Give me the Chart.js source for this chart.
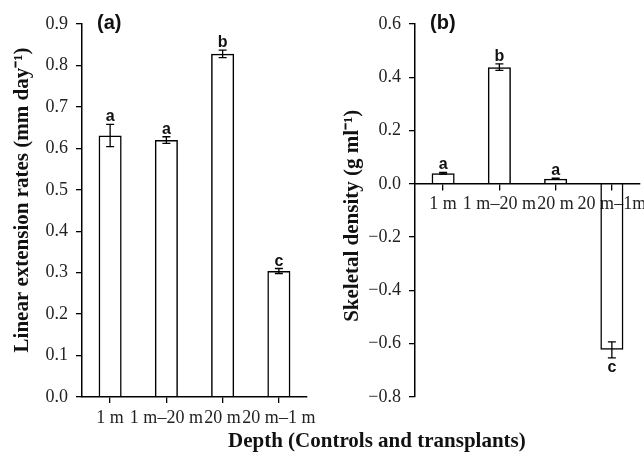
<!DOCTYPE html>
<html>
<head>
<meta charset="utf-8">
<script src="https://cdn.jsdelivr.net/npm/chart.js@4"></script>
<style>
  body { margin: 0; background: #fff; }
  #wrap { position: relative; width: 644px; height: 453px; overflow: hidden; }
  canvas { position: absolute; top: 0; }
  #chartA { left: 0; }
  #chartB { left: 322px; }
  #xTitle {
    position: absolute; left: 228px; top: 428px; line-height: 24px;
    font: bold 21px "Liberation Serif", "Times New Roman", serif; color: #111; white-space: nowrap;
  }
</style>
</head>
<body>
<div id="wrap">
  <canvas id="chartA" width="322" height="453"></canvas>
  <canvas id="chartB" width="322" height="453"></canvas>
  <div id="xTitle">Depth (Controls and transplants)</div>
</div>
<script>
const depthLabelsA = ['1 m', '1 m–20 m', '20 m', '20 m–1 m'];
const depthLabelsB = ['1 m', '1 m–20 m', '20 m', '20 m–1m'];

// (a) linear extension, mean and error
const extensionRates = [0.631, 0.620, 0.828, 0.304];
const extensionErrors = [0.027, 0.008, 0.009, 0.006];
const extensionLetters = ['a', 'a', 'b', 'c'];

// (b) skeletal density change
const densityValues = [0.040, 0.438, 0.019, -0.623];
const densityErrors = [0.003, 0.012, 0.002, 0.030];
const densityLetters = ['a', 'b', 'a', 'c'];

const serif = '"Liberation Serif", "Times New Roman", serif';
const sans = '"Liberation Sans", Arial, sans-serif';

function tickText(v) {
    if (Math.abs(v) < 1e-9) return '0.0';
    return (v < 0 ? '\u2212' : '') + Math.abs(v).toFixed(1);
}

// error bars, significance letters and panel tag
const errorBars = {
    id: 'errorBars',
    afterDatasetsDraw(chart, args, opts) {
        const ctx = chart.ctx, y = chart.scales.y;
        const vals = chart.data.datasets[0].data;
        const bars = chart.getDatasetMeta(0).data;
        ctx.save();
        ctx.strokeStyle = '#000';
        ctx.lineWidth = 1.3;
        ctx.fillStyle = '#111';
        ctx.font = 'bold 16px ' + sans;
        ctx.textAlign = 'center';
        ctx.textBaseline = 'alphabetic';
        bars.forEach((bar, i) => {
            const hi = y.getPixelForValue(vals[i] + opts.errors[i]);
            const lo = y.getPixelForValue(vals[i] - opts.errors[i]);
            ctx.beginPath();
            ctx.moveTo(bar.x, hi); ctx.lineTo(bar.x, lo);
            ctx.moveTo(bar.x - 4, hi); ctx.lineTo(bar.x + 4, hi);
            ctx.moveTo(bar.x - 4, lo); ctx.lineTo(bar.x + 4, lo);
            ctx.stroke();
            if (vals[i] >= 0) ctx.fillText(opts.letters[i], bar.x, hi - 3);
            else ctx.fillText(opts.letters[i], bar.x, lo + 14);
        });
        ctx.font = 'bold 20px ' + sans;
        ctx.textAlign = 'left';
        ctx.textBaseline = 'middle';
        ctx.fillText(opts.tag, opts.tagX, 23);
        ctx.restore();
    }
};

function makeOptions(yMin, yMax, yTitle, titlePad, yWidth, padRight, padBottom, xAtZero, plug) {
    return {
        responsive: false,
        animation: false,
        layout: { padding: { left: 0, top: 24, right: padRight, bottom: padBottom } },
        plugins: { legend: { display: false }, tooltip: { enabled: false }, errorBars: plug },
        scales: {
            x: {
                position: xAtZero ? { y: 0 } : 'bottom',
                grid: { display: true, drawOnChartArea: false, offset: false, color: '#000', tickLength: 6, lineWidth: 1.3 },
                border: { display: true, color: '#000', width: 1.5 },
                ticks: { color: '#222', padding: 4, maxRotation: 0, autoSkip: false, font: { family: serif, size: 18 } },
                afterFit: s => { s.height = xAtZero ? 0 : 56; s.paddingLeft = 0; s.paddingRight = 0; }
            },
            y: {
                min: yMin, max: yMax,
                grid: { display: true, drawOnChartArea: false, color: '#000', tickLength: 6, lineWidth: 1.3 },
                border: { display: true, color: '#000', width: 1.5 },
                ticks: { stepSize: 0.1, color: '#222', padding: 8, font: { family: serif, size: 18 }, callback: tickText },
                title: { display: true, text: yTitle, color: '#111', padding: { top: titlePad, bottom: 0 }, font: { family: serif, size: 21, weight: 'bold' } },
                afterFit: s => { s.width = yWidth; s.paddingTop = 0; s.paddingBottom = 0; }
            }
        }
    };
}

// the leading / trailing spaces nudge the rotated titles to where the original sits
const optsA = makeOptions(0, 0.9, '\u2003Linear extension rates (mm day\u207B\u00B9)', 10, 82, 15, 0, false,
    { errors: extensionErrors, letters: extensionLetters, tag: '(a)', tagX: 97 });
const chartA = new Chart(document.getElementById('chartA').getContext('2d'), {
    type: 'bar',
    data: {
        labels: depthLabelsA,
        datasets: [{ data: extensionRates, backgroundColor: 'rgba(255,255,255,0)', borderColor: '#000', borderWidth: 1.5, barPercentage: 0.41, categoryPercentage: 1 }]
    },
    options: optsA,
    plugins: [errorBars]
});

const optsB = makeOptions(-0.8, 0.6, 'Skeletal density (g ml\u207B\u00B9)\u2002', 18, 93, 4, 56, true,
    { errors: densityErrors, letters: densityLetters, tag: '(b)', tagX: 108 });
optsB.scales.y.ticks.stepSize = 0.2;
const chartB = new Chart(document.getElementById('chartB').getContext('2d'), {
    type: 'bar',
    data: {
        labels: depthLabelsB,
        datasets: [{ data: densityValues, backgroundColor: 'rgba(255,255,255,0)', borderColor: '#000', borderWidth: 1.5, barPercentage: 0.41, categoryPercentage: 1 }]
    },
    options: optsB,
    plugins: [errorBars]
});
</script>
</body>
</html>
